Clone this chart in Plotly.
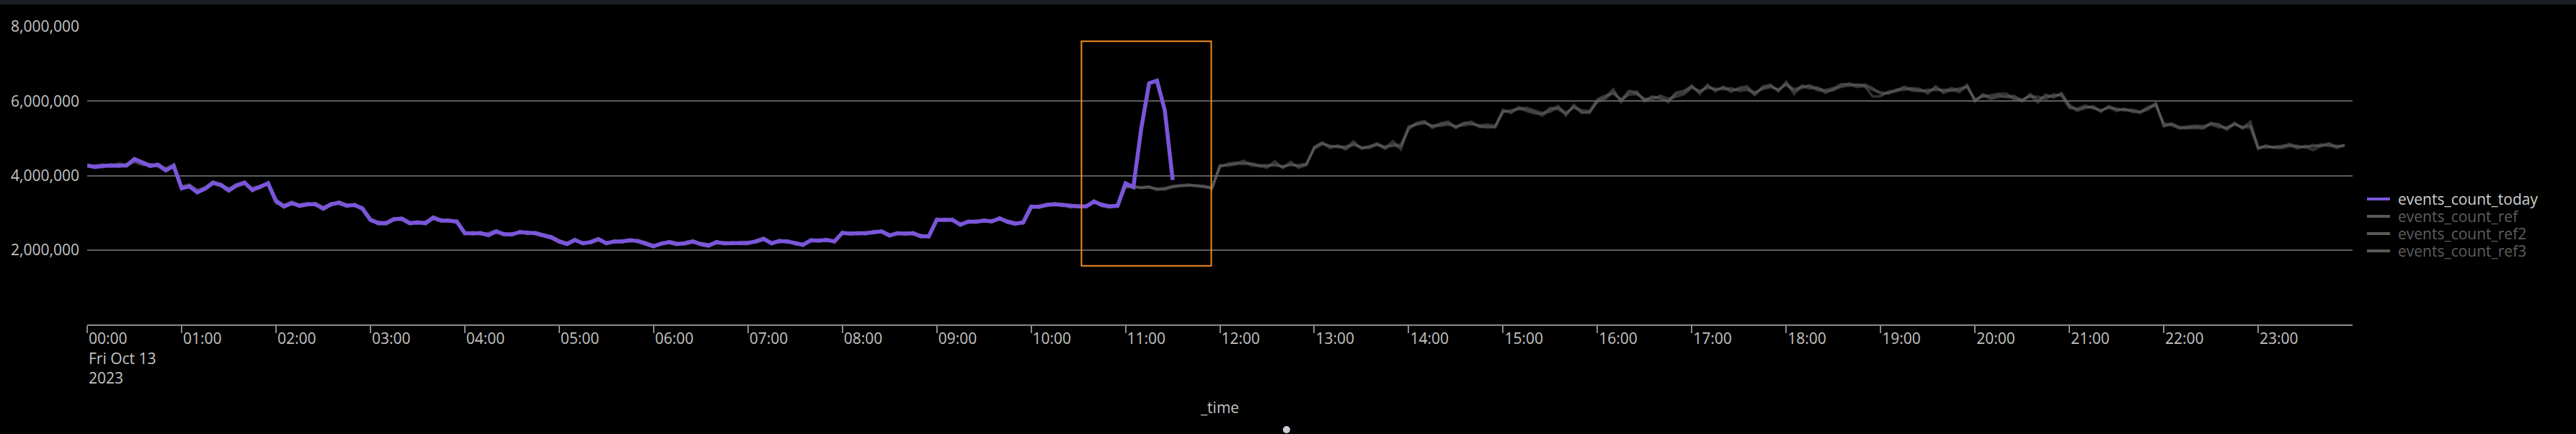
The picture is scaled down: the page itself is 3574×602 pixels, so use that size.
import pandas as pd
import plotly.graph_objects as go

# ---------------- data (values in units of 10,000 events) ----------------
TIMES = pd.date_range("2023-10-13 00:00", periods=288, freq="5min")

EVENTS_TODAY_10K = [
    427, 423, 426, 426, 426, 427, 444, 435, 426, 429, 414, 426,
    366, 371, 355, 365, 381, 375, 360, 374, 381, 361, 369, 379,
    332, 317, 326, 319, 323, 323, 311, 323, 327, 319, 321, 311,
    281, 272, 272, 283, 284, 272, 274, 272, 287, 279, 279, 276,
    245, 245, 245, 240, 250, 242, 242, 248, 246, 245, 239, 234,
    223, 216, 227, 218, 221, 229, 218, 223, 223, 226, 224, 218,
    210, 217, 221, 216, 218, 223, 216, 212, 221, 218, 218, 219,
    219, 223, 230, 218, 224, 223, 218, 214, 226, 225, 227, 223,
    246, 244, 245, 245, 248, 250, 239, 245, 244, 245, 237, 237,
    281, 281, 281, 268, 276, 276, 279, 277, 285, 276, 271, 274,
    316, 316, 321, 323, 321, 317, 317, 317, 330, 321, 317, 319,
    379, 369, 526, 648, 655, 575, 388,
]

EVENTS_REF_10K = [
    425, 428, 430, 424, 433, 428, 436, 428, 431, 426, 420, 430,
    372, 376, 362, 368, 377, 371, 366, 370, 377, 368, 372, 375,
    325, 320, 330, 322, 320, 326, 316, 320, 330, 322, 318, 315,
    284, 276, 270, 280, 287, 275, 271, 276, 283, 282, 276, 279,
    248, 242, 248, 243, 247, 245, 239, 251, 243, 248, 242, 237,
    226, 220, 224, 221, 218, 226, 221, 220, 226, 223, 227, 221,
    213, 215, 224, 219, 215, 220, 219, 215, 218, 221, 216, 222,
    222, 220, 227, 221, 221, 226, 215, 217, 223, 228, 224, 226,
    243, 247, 242, 248, 245, 253, 242, 242, 247, 242, 240, 234,
    278, 284, 278, 271, 273, 279, 276, 280, 282, 279, 274, 271,
    313, 319, 318, 326, 318, 320, 314, 320, 327, 324, 320, 316,
    372, 367, 369, 371, 364, 367, 372, 374, 376, 371, 369, 367,
    426, 429, 432, 440, 427, 425, 421, 438, 420, 437, 421, 428,
    477, 489, 478, 479, 474, 492, 472, 477, 487, 474, 492, 470,
    528, 541, 547, 528, 537, 541, 528, 539, 545, 530, 532, 529,
    574, 571, 584, 577, 571, 561, 577, 587, 561, 590, 571, 568,
    601, 610, 632, 597, 623, 626, 599, 610, 610, 597, 619, 623,
    642, 619, 644, 626, 639, 629, 632, 635, 616, 639, 644, 626,
    652, 619, 642, 639, 629, 626, 629, 642, 648, 642, 645, 635,
    619, 623, 626, 639, 632, 629, 626, 635, 626, 635, 629, 644,
    599, 619, 610, 616, 610, 610, 599, 619, 603, 613, 613, 619,
    590, 577, 584, 584, 571, 587, 577, 577, 574, 568, 581, 595,
    535, 535, 526, 529, 531, 529, 542, 535, 526, 542, 526, 545,
    474, 479, 476, 477, 485, 477, 477, 468, 481, 487, 477, 482,
]

EVENTS_REF2_10K = [
    429, 421, 424, 429, 423, 431, 440, 432, 424, 432, 417, 423,
    369, 368, 358, 362, 378, 378, 363, 377, 378, 364, 366, 382,
    329, 314, 323, 322, 326, 320, 314, 326, 324, 316, 324, 308,
    278, 275, 275, 286, 281, 269, 277, 269, 284, 276, 282, 273,
    242, 248, 242, 246, 253, 239, 245, 245, 249, 242, 236, 231,
    220, 219, 230, 215, 224, 232, 215, 226, 220, 229, 221, 215,
    207, 220, 218, 213, 221, 226, 213, 209, 224, 215, 221, 216,
    216, 226, 233, 215, 227, 220, 221, 211, 229, 222, 230, 220,
    249, 241, 248, 242, 251, 247, 236, 248, 241, 248, 234, 240,
    284, 278, 284, 265, 279, 273, 282, 274, 288, 273, 268, 277,
    319, 313, 324, 320, 324, 314, 320, 314, 333, 318, 314, 322,
    368, 371, 366, 369, 361, 364, 368, 372, 373, 374, 371, 364,
    422, 432, 435, 431, 431, 426, 428, 427, 425, 428, 428, 432,
    472, 484, 480, 476, 478, 482, 476, 474, 482, 478, 480, 478,
    532, 537, 541, 535, 533, 537, 533, 535, 538, 535, 537, 534,
    570, 576, 578, 582, 575, 568, 572, 582, 570, 582, 576, 574,
    605, 615, 620, 605, 617, 619, 606, 604, 615, 606, 612, 618,
    636, 628, 635, 633, 632, 635, 627, 630, 624, 632, 637, 632,
    643, 628, 636, 643, 633, 630, 635, 646, 644, 638, 640, 612,
    613, 626, 629, 630, 635, 633, 620, 640, 622, 630, 624, 640,
    604, 612, 616, 620, 620, 604, 605, 612, 612, 606, 618, 614,
    581, 580, 588, 580, 576, 582, 580, 575, 577, 572, 584, 588,
    540, 538, 530, 532, 534, 533, 537, 530, 530, 537, 531, 535,
    477, 475, 478, 480, 482, 473, 480, 477, 484, 479, 480, 479,
]

EVENTS_REF3_10K = [
    424, 426, 422, 431, 428, 425, 447, 438, 429, 424, 411, 429,
    363, 374, 352, 368, 384, 372, 357, 371, 384, 358, 372, 376,
    335, 320, 329, 316, 320, 326, 308, 320, 330, 322, 318, 314,
    284, 269, 269, 280, 287, 275, 271, 275, 290, 282, 276, 279,
    248, 242, 248, 237, 247, 245, 239, 251, 243, 248, 242, 237,
    225, 218, 226, 219, 223, 227, 220, 221, 225, 228, 222, 220,
    212, 219, 219, 218, 220, 221, 218, 214, 219, 220, 220, 217,
    221, 221, 228, 220, 222, 225, 216, 216, 224, 227, 225, 225,
    244, 246, 247, 243, 250, 248, 241, 243, 246, 243, 239, 235,
    283, 279, 283, 270, 274, 278, 281, 275, 287, 274, 273, 272,
    314, 318, 323, 321, 323, 315, 319, 315, 328, 323, 315, 321,
    370, 372, 367, 368, 365, 362, 371, 373, 374, 373, 372, 368,
    428, 426, 430, 434, 433, 428, 425, 430, 423, 430, 425, 430,
    475, 487, 474, 481, 470, 486, 474, 479, 484, 472, 484, 482,
    525, 539, 543, 531, 540, 545, 530, 542, 540, 533, 529, 531,
    577, 568, 581, 573, 567, 566, 582, 578, 566, 586, 568, 571,
    598, 606, 625, 602, 628, 621, 603, 613, 605, 601, 623, 628,
    639, 624, 640, 630, 636, 625, 636, 640, 620, 635, 641, 629,
    647, 632, 639, 634, 637, 622, 633, 638, 642, 645, 641, 630,
    624, 620, 631, 635, 628, 626, 631, 629, 631, 628, 634, 638,
    602, 615, 606, 611, 614, 614, 602, 615, 596, 618, 609, 622,
    586, 574, 581, 586, 574, 584, 573, 580, 571, 571, 577, 592,
    532, 540, 529, 527, 528, 526, 539, 538, 523, 539, 529, 530,
    471, 481, 474, 474, 479, 480, 475, 482, 478, 484, 474, 483,
]

SERIES_NAMES = ["events_count_today", "events_count_ref", "events_count_ref2", "events_count_ref3"]

HOUR_TICKS = pd.date_range("2023-10-13 00:00", periods=24, freq="1h")
HOUR_LABELS = ["00:00<br>Fri Oct 13<br>2023"] + [f"{h:02d}:00" for h in range(1, 24)]
Y_TICKS = [2_000_000, 4_000_000, 6_000_000, 8_000_000]
X_RANGE = ["2023-10-13 00:00", "2023-10-14 00:00"]
Y_RANGE = [0, 8_000_000]

# highlighted (brushed) region
HIGHLIGHT_X = ["2023-10-13 10:32", "2023-10-13 11:54:30"]
HIGHLIGHT_Y = [1_575_000, 7_610_000]

# ---------------- styling ----------------
UNIT = 10_000
PURPLE = "#7B56DB"
REF_COLOR = "rgba(100,100,100,0.5)"
FONT = "Open Sans"
TICK_COLOR = "#c4c4c4"

fig = go.Figure()

for name, vals in [(SERIES_NAMES[3], EVENTS_REF3_10K),
                   (SERIES_NAMES[2], EVENTS_REF2_10K),
                   (SERIES_NAMES[1], EVENTS_REF_10K)]:
    fig.add_trace(go.Scatter(
        x=TIMES[:len(vals)], y=[v * UNIT for v in vals], name=name,
        mode="lines", line=dict(color=REF_COLOR, width=3.5),
        showlegend=False, hoverinfo="skip"))

fig.add_trace(go.Scatter(
    x=TIMES[:len(EVENTS_TODAY_10K)], y=[v * UNIT for v in EVENTS_TODAY_10K],
    name=SERIES_NAMES[0], mode="lines",
    line=dict(color=PURPLE, width=5.5), showlegend=False))

# highlight rectangle
fig.add_shape(type="rect", xref="x", yref="y",
              x0=HIGHLIGHT_X[0], x1=HIGHLIGHT_X[1],
              y0=HIGHLIGHT_Y[0], y1=HIGHLIGHT_Y[1],
              line=dict(color="#F28A26", width=2), fillcolor="rgba(0,0,0,0)")

# custom legend (right side)
legend_rows = [0.4213, 0.3632, 0.3051, 0.2470]
legend_line_colors = [PURPLE, "#5a5a5a", "#5a5a5a", "#5a5a5a"]
legend_text_colors = ["#cfcfcf", "#5e5e5e", "#5e5e5e", "#5e5e5e"]
for name, yy, lc, tc in zip(SERIES_NAMES, legend_rows, legend_line_colors, legend_text_colors):
    fig.add_shape(type="line", xref="paper", yref="paper",
                  x0=1.00636, x1=1.01654, y0=yy, y1=yy,
                  line=dict(color=lc, width=4))
    fig.add_annotation(xref="paper", yref="paper", x=1.0195, y=yy,
                       xanchor="left", yanchor="middle", showarrow=False,
                       text=name, font=dict(family=FONT, size=21, color=tc))

# top dark strip and bottom handle dot
fig.add_shape(type="rect", xref="paper", yref="paper",
              x0=-0.05, x1=1.11, y0=1.0745, y1=1.1, line=dict(width=0),
              fillcolor="#1b1e24", layer="below")
fig.add_shape(type="circle", xref="paper", yref="paper",
              x0=0.5278, x1=0.5310, y0=-0.3656, y1=-0.3414,
              line=dict(width=0), fillcolor="#c9ced6")

fig.update_layout(
    width=3574, height=602,
    margin=dict(l=121, r=310, t=37, b=152),
    paper_bgcolor="black", plot_bgcolor="black",
    font=dict(family=FONT, size=21, color=TICK_COLOR),
    showlegend=False,
    hovermode=False,
)

fig.update_xaxes(
    type="date", range=X_RANGE,
    tickvals=HOUR_TICKS, ticktext=HOUR_LABELS,
    ticklabelposition="outside right",
    showgrid=False, zeroline=False,
    showline=True, linecolor="#8a8a8a", linewidth=2,
    ticks="outside", ticklen=10, tickwidth=2, tickcolor="#8a8a8a",
    tickfont=dict(family=FONT, size=21, color=TICK_COLOR),
    title=dict(text="_time", font=dict(family=FONT, size=21, color=TICK_COLOR), standoff=22),
)

fig.update_yaxes(
    range=Y_RANGE, tickvals=Y_TICKS, tickformat=",",
    showgrid=True, gridcolor="#5c5c5c", gridwidth=2,
    zeroline=False, showline=False, ticks="",
    tickfont=dict(family=FONT, size=21, color=TICK_COLOR),
    ticklabelstandoff=10,
)

fig.write_html("out.html", config={"displayModeBar": False},
               post_script="document.body.style.margin='0';document.body.style.background='black';")
